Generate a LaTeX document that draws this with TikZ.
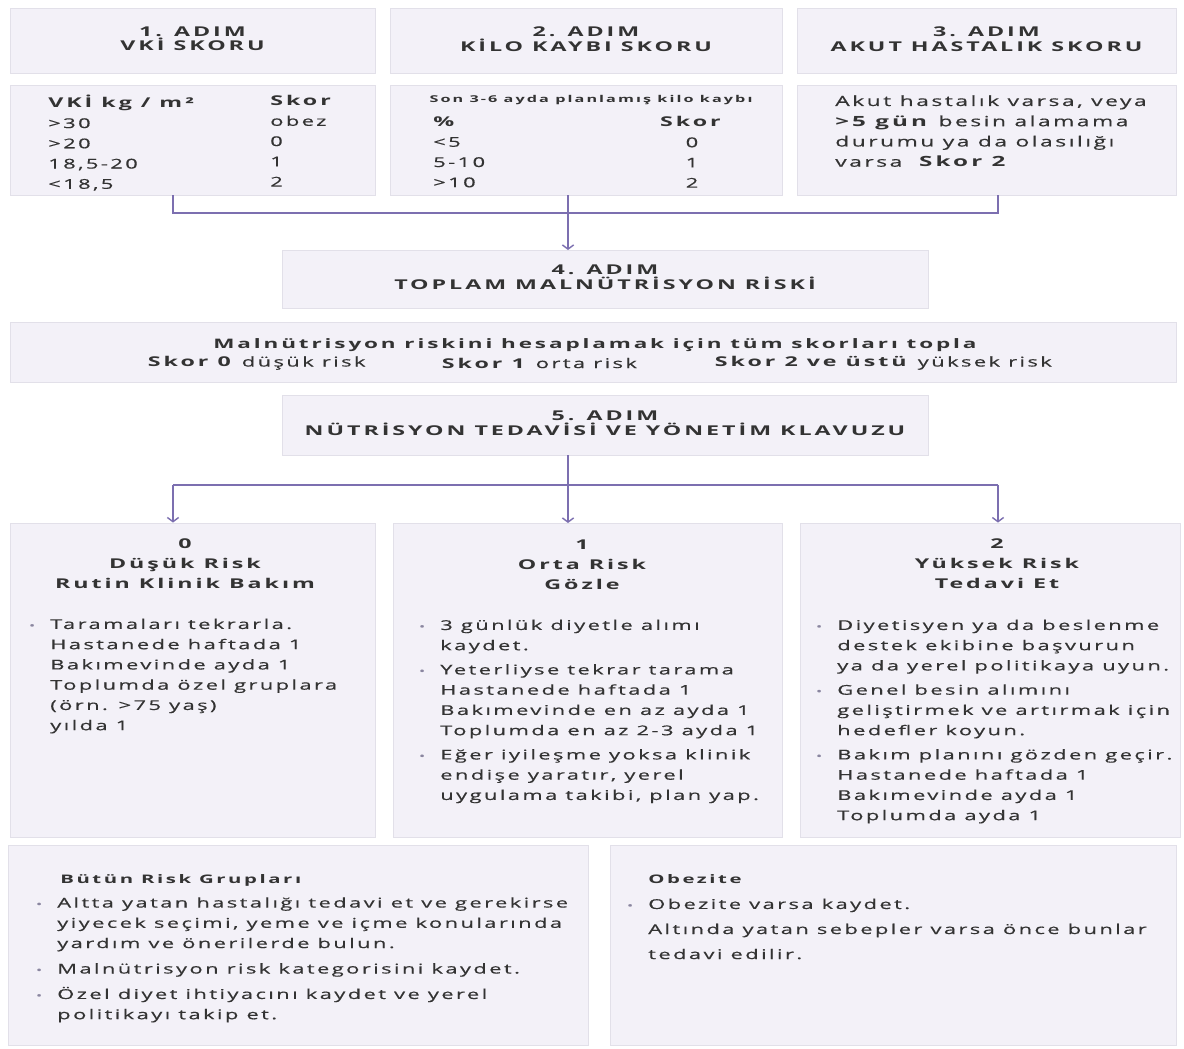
\documentclass[tikz,border=0pt]{standalone}
\usepackage{fontspec}
\setmainfont{Open Sans}[UprightFeatures={FakeStretch=1.62,LetterSpace=18,FakeBold=0.5},BoldFeatures={FakeStretch=1.72,LetterSpace=22}]
\usetikzlibrary{arrows.meta,fit}

\definecolor{boxfill}{HTML}{F3F1F8}
\definecolor{boxedge}{HTML}{E2E0E9}
\definecolor{flowline}{HTML}{7C6FB0}
\definecolor{inktext}{HTML}{333333}
\definecolor{dotc}{HTML}{8A86A0}

% small bullet hanging left of the line
\newcommand\bul{\llap{{\color{dotc}\fontsize{7}{7}\selectfont\textbullet}\hspace{0.38cm}}}

\begin{document}
\begin{tikzpicture}[x=0.025cm,y=-0.025cm]
    \tikzset{
        panel/.style={draw=boxedge,line width=0.6pt,fill=boxfill,inner sep=0pt},
        head/.style={font=\bfseries\fontsize{9.6}{10.4}\selectfont,align=center,text=inktext,yshift=0.04cm},
        risk/.style={font=\bfseries\fontsize{9.6}{14.4}\selectfont,align=center,text=inktext,anchor=north,inner sep=0pt,execute at begin node=\strut},
        body/.style={font=\fontsize{9.6}{14.4}\selectfont,align=left,text=inktext,anchor=north west,inner sep=0pt,execute at begin node=\strut},
        flow/.style={draw=flowline,line width=1pt},
        flowarrow/.style={flow,-{Straight Barb[length=3pt,width=8pt]}}
    }
    \fill[white] (0,0) rectangle (1184,1048);
    \useasboundingbox (0,0) rectangle (1184,1048);

    % steps 1-3
    \node[panel,fit={(10,8) (375,73)}] (h1) {};
    \node[panel,fit={(390,8) (782,73)}] (h2) {};
    \node[panel,fit={(797,8) (1176,73)}] (h3) {};
    \node[head] (h1t) at (h1.center) {1. ADIM\\VKİ SKORU};
    \node[head] (h2t) at (h2.center) {2. ADIM\\KİLO KAYBI SKORU};
    \node[head] (h3t) at (h3.center) {3. ADIM\\AKUT HASTALIK SKORU};

    \node[panel,fit={(10,85) (375,195)}] (t1) {};
    \node[panel,fit={(390,85) (782,195)}] (t2) {};
    \node[panel,fit={(797,85) (1176,195)}] (t3) {};

    \node[body] (vcol) at (48,95) {\textbf{VKİ kg / m²}\\>30\\>20\\18,5-20\\<18,5};
    \node[body] (vskor) at (270,95) {\textbf{Skor}\\obez\\0\\1\\2};

    \node[font=\bfseries\fontsize{6.7}{8}\selectfont,text=inktext] (kk) at (591,100) {Son 3-6 ayda planlamış kilo kaybı};
    \node[body] (kpct) at (433,116.4) {\textbf{\%}\\<5\\5-10\\>10};
    \node[body,anchor=north,align=center] (kskor) at (692,116.4) {\textbf{Skor}\\0\\1\\2};

    \node[body,font=\fontsize{10}{14.4}\selectfont] (akut) at (835,95) {Akut hastalık varsa, veya\\\textbf{>5 gün} besin alamama\\durumu ya da olasılığı\\varsa\ \ \textbf{Skor 2}};

    % step 4
    \node[panel,fit={(282,250) (928,308)}] (s4) {};
    \node[head] (s4t) at (s4.center) {4. ADIM\\TOPLAM MALNÜTRİSYON RİSKİ};

    \coordinate (j1) at (173,213);
    \coordinate (j3) at (998,213);
    \draw[flow] (t1.south -| j1) -- (j1) -- (j3) -- (t3.south -| j3);
    \draw[flowarrow] (568,195) -- (568,250);

    \node[panel,fit={(10,322) (1176,382)}] (sum) {};
    \node[font=\bfseries\fontsize{9.3}{11}\selectfont,text=inktext] (sumt) at (595,345) {Malnütrisyon riskini hesaplamak için tüm skorları topla};
    \node[font=\fontsize{9.6}{11}\selectfont,text=inktext,anchor=west] (r0) at (143,363) {\textbf{Skor 0} düşük risk};
    \node[font=\fontsize{9.6}{11}\selectfont,text=inktext,anchor=west] (r1) at (437,363) {\textbf{Skor 1} orta risk};
    \node[font=\fontsize{9.6}{11}\selectfont,text=inktext,anchor=west] (r2) at (710,363) {\textbf{Skor 2 ve üstü} yüksek risk};

    % step 5
    \node[panel,fit={(282,395) (928,455)}] (s5) {};
    \node[head] (s5t) at (s5.center) {5. ADIM\\NÜTRİSYON TEDAVİSİ VE YÖNETİM KLAVUZU};

    \node[panel,fit={(10,523) (375,837)}] (k0) {};
    \node[panel,fit={(393,523) (782,837)}] (k1) {};
    \node[panel,fit={(800,523) (1180,837)}] (k2) {};

    \coordinate (f0) at (173,485);
    \coordinate (f2) at (998,485);
    \draw[flow] (f0) -- (f2);
    \draw[flowarrow] (568,455) -- (568,523);
    \draw[flowarrow] (f0) -- (f0 |- k0.north);
    \draw[flowarrow] (f2) -- (f2 |- k2.north);

    \node[risk] (k0h) at (185,538.4) {0\\Düşük Risk\\Rutin Klinik Bakım};
    \node[risk] (k1h) at (582,539.4) {1\\Orta Risk\\Gözle};
    \node[risk] (k2h) at (997,538.4) {2\\Yüksek Risk\\Tedavi Et};

    \node[body] (k0b) at (50,618.4) {\bul Taramaları tekrarla.\\Hastanede haftada 1\\Bakımevinde ayda 1\\Toplumda özel gruplara\\(örn. >75 yaş)\\yılda 1};
    \node[body] (k1b) at (440,619.4) {\bul 3 günlük diyetle alımı\\kaydet.\\[0.1cm]\bul Yeterliyse tekrar tarama\\Hastanede haftada 1\\Bakımevinde en az ayda 1\\Toplumda en az 2-3 ayda 1\\[0.1cm]\bul Eğer iyileşme yoksa klinik\\endişe yaratır, yerel\\uygulama takibi, plan yap.};
    \node[body] (k2b) at (837,619.4) {\bul Diyetisyen ya da beslenme\\destek ekibine başvurun\\ya da yerel politikaya uyun.\\[0.1cm]\bul Genel besin alımını\\geliştirmek ve artırmak için\\hedefler koyun.\\[0.1cm]\bul Bakım planını gözden geçir.\\Hastanede haftada 1\\Bakımevinde ayda 1\\Toplumda ayda 1};

    % notes
    \node[panel,fit={(8,845) (588,1045)}] (allr) {};
    \node[panel,fit={(610,845) (1176,1045)}] (obz) {};

    \node[font=\bfseries\fontsize{8.4}{10}\selectfont,text=inktext,anchor=west,inner sep=0pt] (allh) at (60,880) {Bütün Risk Grupları};
    \node[body] (allb) at (57,897) {\bul Altta yatan hastalığı tedavi et ve gerekirse\\yiyecek seçimi, yeme ve içme konularında\\yardım ve önerilerde bulun.\\[0.13cm]\bul Malnütrisyon risk kategorisini kaydet.\\[0.13cm]\bul Özel diyet ihtiyacını kaydet ve yerel\\politikayı takip et.};

    \node[font=\bfseries\fontsize{8.4}{10}\selectfont,text=inktext,anchor=west,inner sep=0pt] (obzh) at (648,879) {Obezite};
    \node[body] (obzb) at (648,898.4) {\bul Obezite varsa kaydet.\\[0.12cm]Altında yatan sebepler varsa önce bunlar\\[0.12cm]tedavi edilir.};
\end{tikzpicture}
\end{document}
